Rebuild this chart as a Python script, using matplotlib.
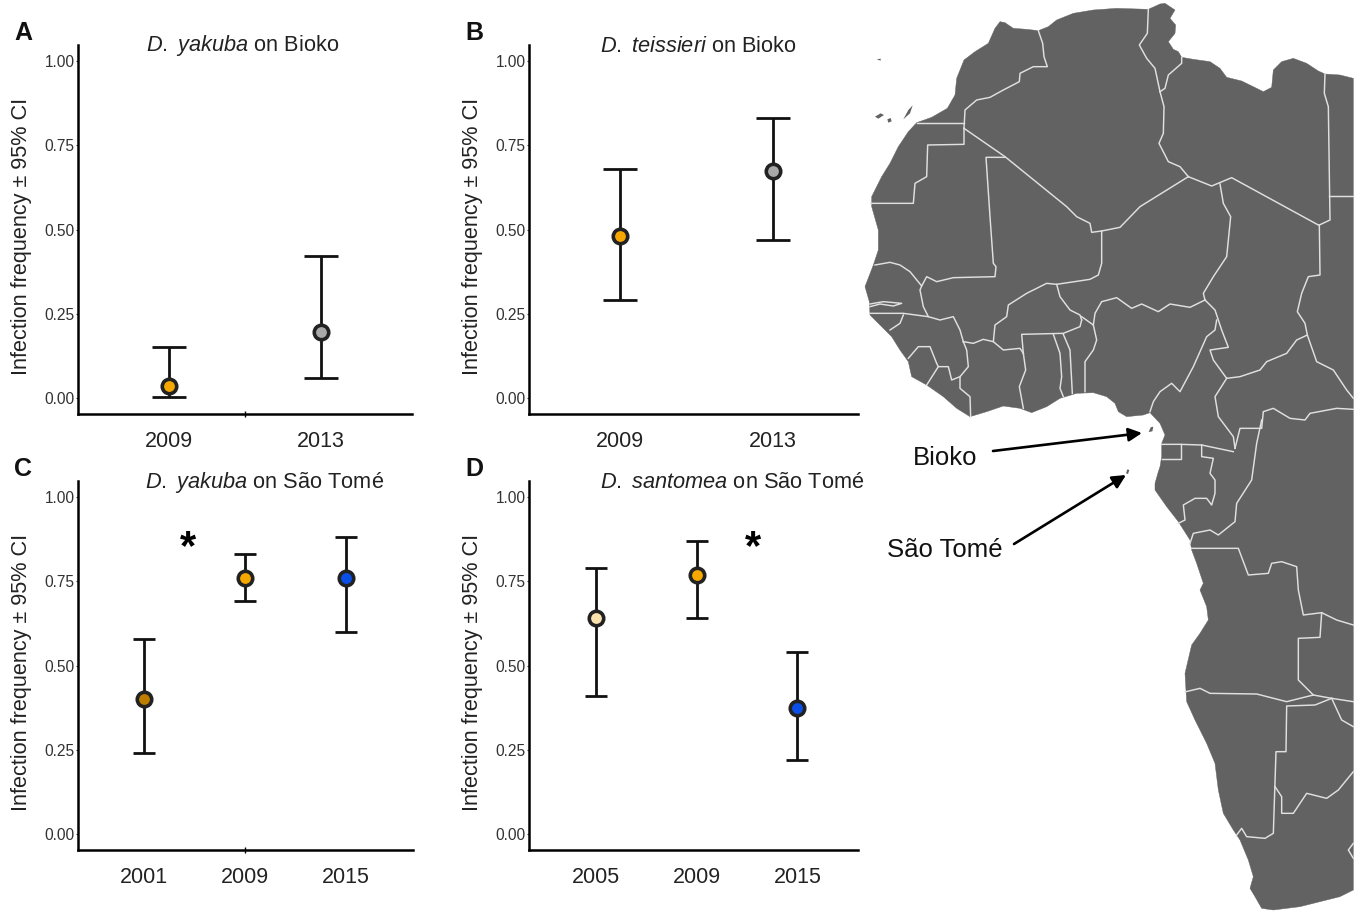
"""Wolbachia infection frequencies on Bioko and Sao Tome, with a map of west Africa."""

import matplotlib.pyplot as plt
from matplotlib.patches import Polygon

plt.rcParams["font.family"] = ["Liberation Sans", "DejaVu Sans"]
plt.rcParams["mathtext.fontset"] = "custom"
plt.rcParams["mathtext.it"] = "Liberation Sans:italic"
plt.rcParams["mathtext.rm"] = "Liberation Sans"

WIDTH, HEIGHT = 1358, 911

# panel data
YEARS_A = ["2009", "2013"]
FREQ_A = [0.035, 0.195]
LOW_A = [0.003, 0.06]
HIGH_A = [0.15, 0.42]

YEARS_B = ["2009", "2013"]
FREQ_B = [0.48, 0.675]
LOW_B = [0.29, 0.47]
HIGH_B = [0.68, 0.83]

YEARS_C = ["2001", "2009", "2015"]
FREQ_C = [0.40, 0.76, 0.76]
LOW_C = [0.24, 0.69, 0.60]
HIGH_C = [0.58, 0.83, 0.88]

YEARS_D = ["2005", "2009", "2015"]
FREQ_D = [0.64, 0.77, 0.375]
LOW_D = [0.41, 0.64, 0.22]
HIGH_D = [0.79, 0.87, 0.54]

ORANGE = "#f6a800"
GREY = "#a9a9a9"
BROWN = "#bf7d00"
BLUE = "#0a50e8"
CREAM = "#fbe2ae"

YTICKS = [0.0, 0.25, 0.5, 0.75, 1.0]
YLABEL = "Infection frequency ± 95% CI"
Y_MIN, Y_MAX = -0.0475, 1.0475

# map outline, traced at 3x the picture size with the map's left edge at 0
COAST = [
    (170, 368), (215, 352), (262, 325), (285, 285), (290, 235), (312, 180), (345, 155),
    (385, 130), (405, 85), (420, 65), (435, 68), (460, 85), (500, 88), (535, 92), (565, 80),
    (590, 60), (640, 40), (700, 30), (770, 25), (865, 28), (900, 12), (915, 10), (945, 30),
    (930, 55), (947, 75), (945, 100), (925, 125), (940, 148), (955, 155), (965, 172),
    (1000, 178), (1050, 185), (1080, 205), (1100, 232), (1145, 243), (1190, 265), (1210, 275),
    (1235, 262), (1240, 210), (1265, 185), (1300, 175), (1340, 190), (1375, 213), (1395, 222),
    (1440, 225), (1480, 235), (1480, 2670), (1440, 2690), (1380, 2705), (1320, 2720),
    (1240, 2730), (1205, 2725), (1185, 2690), (1170, 2665), (1180, 2630), (1165, 2580),
    (1140, 2520), (1120, 2490), (1090, 2440), (1075, 2370), (1065, 2290), (1040, 2230),
    (1005, 2160), (980, 2105), (975, 2020), (995, 1935), (1020, 1900), (1045, 1860),
    (1040, 1820), (1020, 1770), (1030, 1750), (1010, 1690), (995, 1650), (990, 1620),
    (955, 1565), (920, 1520), (885, 1470), (885, 1450), (895, 1415), (900, 1400), (905, 1370),
    (905, 1330), (915, 1305), (900, 1270), (870, 1238), (850, 1245), (800, 1250), (775, 1235),
    (765, 1210), (740, 1190), (700, 1178), (650, 1180), (600, 1195), (560, 1220), (515, 1238),
    (480, 1225), (430, 1218), (380, 1235), (330, 1250), (290, 1225), (250, 1190), (200, 1155),
    (155, 1130), (145, 1085), (120, 1050), (95, 1010), (70, 985), (30, 945), (28, 905),
    (15, 860), (40, 795), (55, 750), (55, 690), (35, 620), (35, 590), (65, 530), (90, 490),
    (115, 440), (145, 395),
]

ISLANDS = [
    [(866, 1296), (872, 1282), (880, 1280), (877, 1294)],
    [(798, 1420), (802, 1408), (808, 1410), (804, 1422)],
    [(45, 350), (62, 340), (72, 345), (55, 356)],
    [(82, 358), (92, 354), (95, 364), (85, 368)],
    [(130, 358), (145, 330), (158, 316), (150, 340)],
    [(50, 178), (62, 176), (62, 182)],
]

BORDERS = [
    [(535, 92), (548, 130), (552, 170), (562, 200), (520, 200), (480, 220), (478, 245),
     (430, 270), (390, 292), (350, 300), (315, 330), (312, 385)],
    [(170, 370), (312, 370)],
    [(312, 385), (312, 433), (203, 435), (200, 530), (165, 550), (160, 610), (32, 610)],
    [(312, 385), (435, 470), (620, 620), (650, 650), (690, 670), (695, 697), (725, 693),
     (780, 682), (840, 620), (985, 530)],
    [(435, 472), (378, 472), (390, 650), (400, 790), (408, 800), (405, 830), (280, 833),
     (230, 845), (200, 830), (185, 858), (150, 815), (120, 795), (90, 787), (45, 795)],
    [(185, 858), (180, 870), (190, 920), (205, 950)],
    [(30, 940), (130, 940), (205, 950), (240, 960), (280, 950), (300, 990), (310, 1025)],
    [(30, 912), (70, 905), (125, 910), (100, 918), (60, 912), (30, 920)],
    [(130, 945), (120, 970), (90, 990)],
    [(310, 1025), (340, 1030), (370, 1018), (400, 1025), (405, 975), (440, 950), (445, 915),
     (500, 880), (560, 850), (590, 853), (690, 838), (715, 825), (725, 790), (725, 693)],
    [(590, 853), (600, 890), (630, 930), (660, 945), (665, 960)],
    [(400, 1025), (430, 1050), (480, 1045), (490, 1060)],
    [(665, 960), (660, 980), (610, 1000), (485, 1003), (490, 1060)],
    [(490, 1060), (497, 1110), (478, 1160), (490, 1225)],
    [(580, 1003), (600, 1060), (605, 1130), (600, 1165), (610, 1190)],
    [(610, 1003), (630, 1050), (637, 1180)],
    [(665, 950), (700, 975), (710, 1020), (700, 1050), (675, 1085), (675, 1175)],
    [(700, 975), (705, 940), (725, 905), (770, 893), (815, 925), (845, 912), (895, 935),
     (930, 912), (990, 922), (1035, 900)],
    [(985, 530), (1055, 558), (1115, 533), (1375, 675)],
    [(1080, 552), (1090, 610), (1112, 650), (1100, 770), (1060, 830), (1030, 880), (1035, 900)],
    [(865, 28), (862, 100), (838, 135), (860, 175), (885, 205), (900, 275)],
    [(965, 172), (965, 190), (925, 225), (915, 265), (900, 275)],
    [(900, 275), (912, 320), (910, 400), (897, 430), (925, 485), (960, 500), (985, 530)],
    [(1395, 222), (1393, 280), (1405, 320), (1410, 660), (1378, 675)],
    [(1408, 587), (1480, 587)],
    [(1378, 675), (1380, 825), (1345, 830), (1325, 880), (1312, 935), (1335, 970), (1342, 1005),
     (1370, 1085), (1420, 1110), (1460, 1170), (1480, 1195)],
    [(1342, 1005), (1310, 1020), (1280, 1060), (1220, 1085), (1200, 1110), (1140, 1130), (1100, 1135)],
    [(1035, 900), (1065, 930), (1085, 990), (1105, 1042), (1050, 1050), (1060, 1080), (1100, 1135)],
    [(1070, 960), (1065, 990), (1040, 1010), (1000, 1100), (960, 1175), (935, 1150), (900, 1175),
     (880, 1205), (870, 1235)],
    [(1100, 1135), (1065, 1190), (1075, 1250), (1120, 1310), (1125, 1345)],
    [(1125, 1345), (1140, 1285), (1205, 1285), (1210, 1235), (1240, 1225), (1290, 1255),
     (1335, 1260), (1350, 1240), (1430, 1225), (1480, 1228)],
    [(1205, 1260), (1190, 1330), (1175, 1440), (1130, 1510), (1125, 1565), (1075, 1605),
     (1050, 1590), (1000, 1600), (990, 1630)],
    [(905, 1333), (960, 1333), (1025, 1335), (1120, 1355)],
    [(905, 1378), (962, 1378), (962, 1333)],
    [(1025, 1335), (1025, 1370), (1060, 1375), (1050, 1420), (1065, 1440), (1065, 1480),
     (1055, 1515), (1040, 1495), (1005, 1495), (970, 1515), (975, 1560), (955, 1570)],
    [(995, 1645), (1135, 1645), (1165, 1725), (1225, 1720), (1235, 1690), (1265, 1685),
     (1310, 1700), (1315, 1770), (1330, 1845), (1385, 1838), (1430, 1860), (1480, 1875)],
    [(1385, 1838), (1380, 1912), (1315, 1915), (1315, 2040), (1360, 2085)],
    [(978, 2075), (1020, 2065), (1050, 2080), (1190, 2082), (1280, 2105), (1360, 2085),
     (1415, 2095), (1480, 2105)],
    [(1415, 2095), (1445, 2160), (1480, 2180)],
    [(1415, 2095), (1365, 2115), (1280, 2118), (1278, 2255), (1248, 2255), (1240, 2500),
     (1215, 2515), (1160, 2510), (1145, 2485), (1130, 2505)],
    [(1245, 2360), (1265, 2390), (1265, 2440), (1300, 2440), (1340, 2380), (1400, 2395),
     (1435, 2370), (1480, 2315)],
    [(1480, 2530), (1465, 2550), (1480, 2575)],
    [(145, 1075), (175, 1040), (210, 1040), (230, 1090), (235, 1100), (200, 1155)],
    [(235, 1100), (265, 1100), (275, 1140), (300, 1130), (325, 1100), (320, 1050), (310, 1025)],
    [(300, 1130), (300, 1165), (330, 1190), (332, 1250)],
]


def to_px(points):
    return [(860 + x / 3, y / 3) for x, y in points]


def draw_map(ax):
    land = "#626262"
    ax.add_patch(Polygon(to_px(COAST), closed=True, facecolor=land, edgecolor=land, linewidth=0.3))
    for island in ISLANDS:
        ax.add_patch(Polygon(to_px(island), closed=True, facecolor=land, edgecolor="none"))
    for border in BORDERS:
        xs, ys = zip(*to_px(border))
        ax.plot(xs, ys, color="#e0e0e0", linewidth=1.05, solid_joinstyle="round")

    ax.text(945.5, 458, "Bioko", fontsize=18.5, ha="center", va="center", color="#111111")
    ax.text(945, 550, "São Tomé", fontsize=18.5, ha="center", va="center", color="#111111")
    for start, end in [((993, 451), (1142, 433)), ((1014, 544), (1126, 475))]:
        ax.annotate(
            "",
            xy=end,
            xytext=start,
            arrowprops=dict(arrowstyle="-|>,head_length=0.8,head_width=0.4", color="black",
                            linewidth=1.9, shrinkA=0, shrinkB=0),
        )


def draw_panel(left, top, right, title_x, title, letter, years, freq, low, high, colors, xlim, cap):
    bottom = top + 369
    ax = fig.add_axes([left / WIDTH, 1 - bottom / HEIGHT, (right - left) / WIDTH, 369 / HEIGHT])
    ax.patch.set_alpha(0)
    xs = list(range(len(years)))
    ax.errorbar(xs, freq, yerr=[[f - l for f, l in zip(freq, low)], [h - f for f, h in zip(freq, high)]],
                fmt="none", ecolor="#111111", elinewidth=2.0, capsize=cap, capthick=2.0, zorder=2)
    for x, f, c in zip(xs, freq, colors):
        ax.plot(x, f, "o", markersize=10.4, markerfacecolor=c, markeredgecolor="#222222",
                markeredgewidth=2.6, zorder=3)
    ax.set_xlim(*xlim)
    ax.set_ylim(Y_MIN, Y_MAX)
    ax.set_xticks(xs, years, fontsize=15.5, color="#222222")
    ax.set_yticks(YTICKS, [f"{t:.2f}" for t in YTICKS], fontsize=11.2, color="#333333")
    ax.tick_params(axis="x", length=0, pad=12.5)
    ax.tick_params(axis="y", length=1.5, width=0.8, pad=1, color="#333333")
    ax.set_ylabel(YLABEL, fontsize=15.6, color="#222222")
    ax.yaxis.set_label_coords(-46 / (right - left), 0.482)
    ax.spines[["top", "right"]].set_visible(False)
    ax.spines[["left", "bottom"]].set_linewidth(1.8)
    fig.text(title_x / WIDTH, 1 - (top + 1) / HEIGHT, title, fontsize=15.7,
             ha="center", va="center", color="#222222")
    fig.text((left - 55) / WIDTH, 1 - (top - 12) / HEIGHT, letter, fontsize=18, fontweight="bold",
             ha="center", va="center", color="#111111")
    return ax


fig = plt.figure(figsize=(WIDTH / 100, HEIGHT / 100), dpi=100)

map_ax = fig.add_axes([0, 0, 1, 1])
map_ax.set_xlim(0, WIDTH)
map_ax.set_ylim(HEIGHT, 0)
map_ax.axis("off")
draw_map(map_ax)

ax_a = draw_panel(78, 45, 412, 243, r"$\mathit{D.}$ $\mathit{yakuba}$ on Bioko", "A", YEARS_A, FREQ_A, LOW_A, HIGH_A,
                  [ORANGE, GREY], (-0.6, 1.6), 11.9)
draw_panel(529, 45, 858, 698.5, r"$\mathit{D.}$ $\mathit{teissieri}$ on Bioko", "B", YEARS_B, FREQ_B, LOW_B, HIGH_B,
           [ORANGE, GREY], (-0.6, 1.56), 11.9)
ax_c = draw_panel(78, 481, 413, 265, r"$\mathit{D.}$ $\mathit{yakuba}$ on São Tomé", "C", YEARS_C, FREQ_C, LOW_C, HIGH_C,
                  [BROWN, ORANGE, BLUE], (-0.65, 2.66), 7.9)
ax_d = draw_panel(529, 481, 858, 732, r"$\mathit{D.}$ $\mathit{santomea}$ on São Tomé", "D", YEARS_D, FREQ_D, LOW_D, HIGH_D,
                  [CREAM, ORANGE, BLUE], (-0.66, 2.6), 7.9)

# the stray little ticks on the left-hand panels' x axes
ax_a.plot(0.5, Y_MIN, "|", color="black", markersize=4, markeredgewidth=1, clip_on=False)
ax_c.plot(1, Y_MIN, "|", color="black", markersize=4, markeredgewidth=1, clip_on=False)

ax_c.text(0.44, 0.848, "*", fontsize=30, fontweight="bold", ha="center", va="center")
ax_d.text(1.56, 0.848, "*", fontsize=30, fontweight="bold", ha="center", va="center")

fig.savefig("out.png", dpi=100)
